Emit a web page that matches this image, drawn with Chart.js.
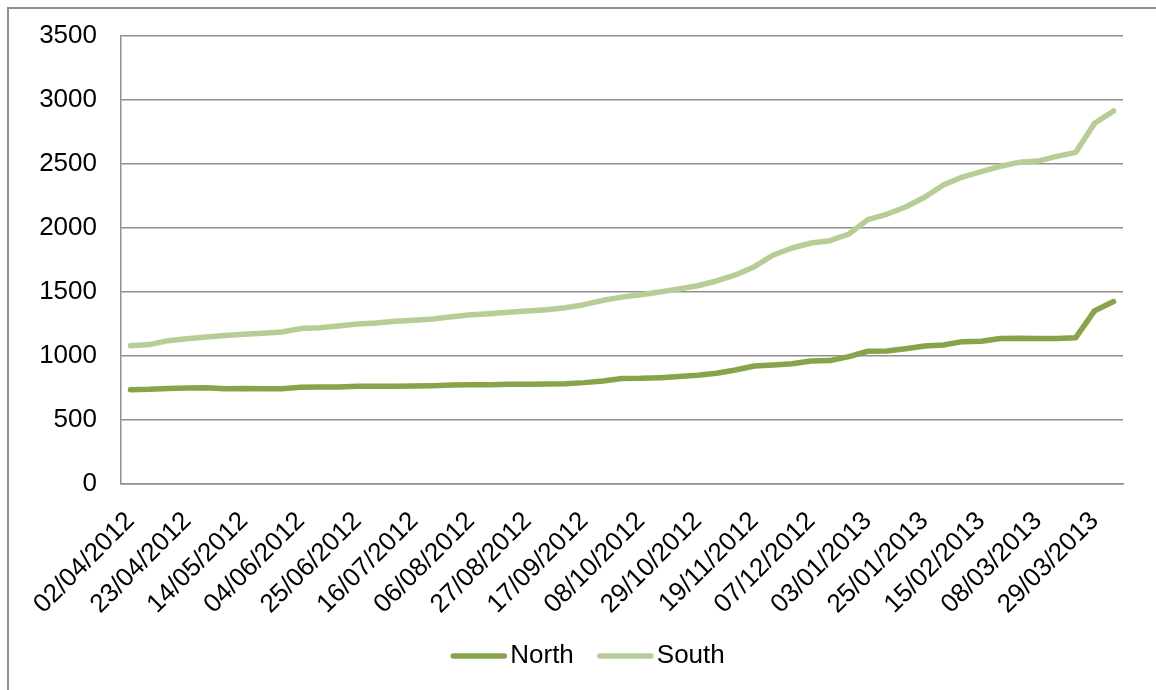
<!DOCTYPE html>
<html>
<head>
<meta charset="utf-8">
<script src="https://cdn.jsdelivr.net/npm/chart.js@4/dist/chart.umd.min.js"></script>
<style>
  html, body { margin: 0; padding: 0; background: #fff; }
  #myChart { display: block; }
</style>
</head>
<body>
<canvas id="myChart" width="1156" height="690"></canvas>
<script>
// weekly readings, one label in three is shown on the axis
var weeks = [
    "02/04/2012", "09/04/2012", "16/04/2012", "23/04/2012", "30/04/2012", "07/05/2012",
    "14/05/2012", "21/05/2012", "28/05/2012", "04/06/2012", "11/06/2012", "18/06/2012",
    "25/06/2012", "02/07/2012", "09/07/2012", "16/07/2012", "23/07/2012", "30/07/2012",
    "06/08/2012", "13/08/2012", "20/08/2012", "27/08/2012", "03/09/2012", "10/09/2012",
    "17/09/2012", "24/09/2012", "01/10/2012", "08/10/2012", "15/10/2012", "22/10/2012",
    "29/10/2012", "05/11/2012", "12/11/2012", "19/11/2012", "26/11/2012", "30/11/2012",
    "07/12/2012", "14/12/2012", "21/12/2012", "03/01/2013", "10/01/2013", "18/01/2013",
    "25/01/2013", "01/02/2013", "08/02/2013", "15/02/2013", "22/02/2013", "01/03/2013",
    "08/03/2013", "15/03/2013", "22/03/2013", "29/03/2013", "05/04/2013"
];

var north = [
    737, 740, 747, 750, 752, 745, 747, 745, 745, 755,
    757, 757, 763, 763, 763, 766, 768, 773, 776, 776,
    779, 779, 781, 784, 792, 805, 825, 826, 831, 839,
    849, 865, 891, 922, 930, 940, 961, 964, 995, 1037,
    1039, 1057, 1078, 1086, 1112, 1115, 1136, 1138, 1136, 1136,
    1143, 1354, 1425
];

var south = [
    1080, 1089, 1120, 1135, 1148, 1161, 1169, 1177, 1188, 1214,
    1221, 1234, 1250, 1258, 1271, 1279, 1289, 1307, 1323, 1331,
    1341, 1352, 1362, 1377, 1401, 1435, 1460, 1479, 1500, 1523,
    1549, 1586, 1633, 1698, 1789, 1844, 1883, 1901, 1953, 2065,
    2107, 2164, 2240, 2336, 2398, 2440, 2482, 2513, 2523, 2560,
    2591, 2818, 2914
];

var yTicks = [0, 500, 1000, 1500, 2000, 2500, 3000, 3500];

var font = "'Liberation Sans', Arial, sans-serif";
var gridGrey = "#8f8f8f";

// frame around the chart
var frame = {
    id: "frame",
    beforeDraw: function (chart) {
        var c = chart.ctx;
        c.save();
        c.strokeStyle = "#8e8e8e";
        c.lineWidth = 2;
        c.strokeRect(8, 8, chart.width + 20, chart.height + 20);
        c.restore();
    }
};

// legend with a short line sample next to each series name
var lineLegend = {
    id: "lineLegend",
    afterDraw: function (chart) {
        var c = chart.ctx;
        var sample = 55, gap = 4, between = 24, y = 656;
        c.save();
        c.font = "26px " + font;
        var items = chart.data.datasets.map(function (ds) {
            return { ds: ds, w: c.measureText(ds.label).width };
        });
        var total = 0;
        items.forEach(function (it, i) {
            total += sample + gap + it.w + (i ? between : 0);
        });
        var x = chart.width / 2 + 10 - total / 2;
        items.forEach(function (it) {
            c.strokeStyle = it.ds.borderColor;
            c.lineWidth = it.ds.borderWidth;
            c.lineCap = "round";
            c.beginPath();
            c.moveTo(x + 2, y);
            c.lineTo(x + sample - 2, y);
            c.stroke();
            c.fillStyle = "#000";
            c.textBaseline = "middle";
            c.textAlign = "left";
            c.fillText(it.ds.label, x + sample + gap, y);
            x += sample + gap + it.w + between;
        });
        c.restore();
    }
};

var ctx = document.getElementById("myChart");
var myChart = new Chart(ctx, {
    type: "line",
    data: {
        labels: weeks,
        datasets: [
            {
                label: "North",
                data: north,
                borderColor: "#87a44a",
                backgroundColor: "#87a44a",
                borderWidth: 5.5,
                borderCapStyle: "round",
                borderJoinStyle: "round",
                pointRadius: 0,
                tension: 0
            },
            {
                label: "South",
                data: south,
                borderColor: "#b6cd95",
                backgroundColor: "#b6cd95",
                borderWidth: 5.5,
                borderCapStyle: "round",
                borderJoinStyle: "round",
                pointRadius: 0,
                tension: 0
            }
        ]
    },
    options: {
        responsive: false,
        animation: false,
        layout: {
            padding: { left: 0, top: 36, right: 33, bottom: 0 }
        },
        plugins: {
            legend: { display: false },
            tooltip: { enabled: false }
        },
        scales: {
            x: {
                offset: true,
                grid: { display: true, color: "rgba(0,0,0,0)", drawTicks: false, offset: true },
                border: { display: true, color: gridGrey, width: 1.5 },
                ticks: {
                    autoSkip: false,
                    minRotation: 45,
                    maxRotation: 45,
                    padding: 22,
                    color: "#000",
                    font: { family: font, size: 26 },
                    callback: function (value, index) {
                        return index % 3 === 0 ? this.getLabelForValue(value) : "";
                    }
                },
                afterFit: function (scale) {
                    scale.height = 206;
                    scale.paddingLeft = 0;
                    scale.paddingRight = 0;
                }
            },
            y: {
                min: yTicks[0],
                max: yTicks[yTicks.length - 1],
                afterBuildTicks: function (scale) {
                    scale.ticks = yTicks.map(function (v) { return { value: v }; });
                },
                grid: { color: gridGrey, lineWidth: 1.5, drawTicks: false },
                border: { display: true, color: gridGrey, width: 1.5 },
                ticks: {
                    padding: 24,
                    color: "#000",
                    font: { family: font, size: 26 },
                    callback: function (value) {
                        return String(value);
                    }
                },
                afterFit: function (scale) {
                    scale.width = 121;
                    scale.paddingTop = 0;
                    scale.paddingBottom = 0;
                }
            }
        }
    },
    plugins: [frame, lineLegend]
});
</script>
</body>
</html>
